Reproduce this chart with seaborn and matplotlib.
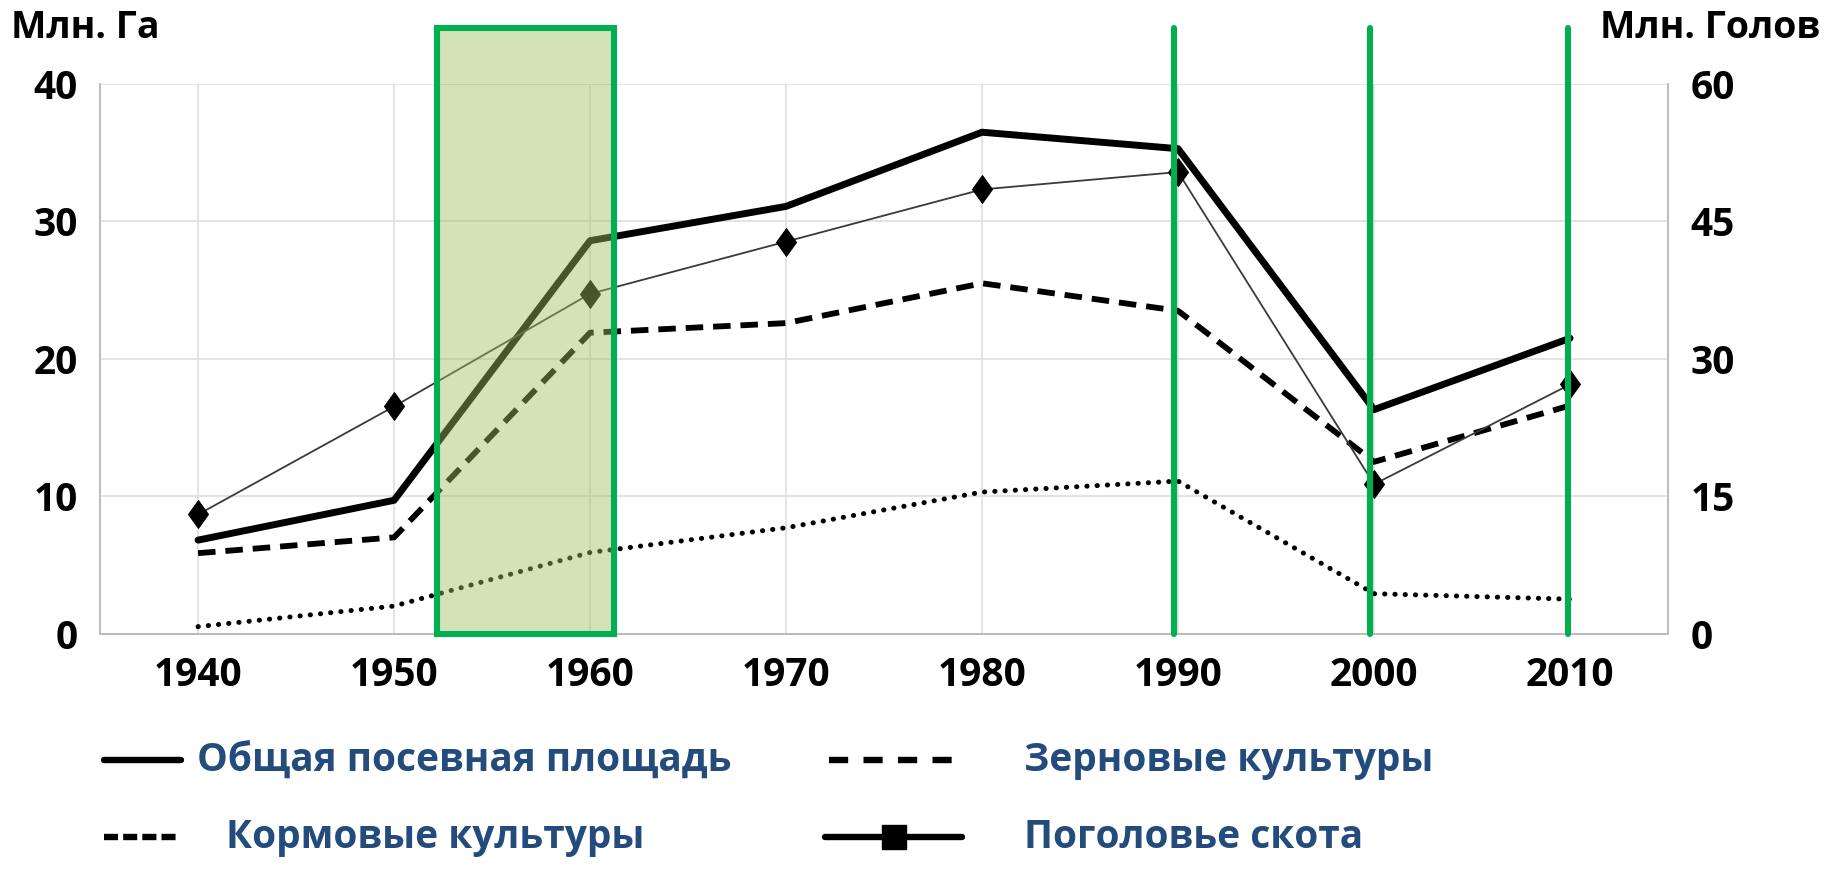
import matplotlib
matplotlib.use("Agg")
import matplotlib.pyplot as plt
from matplotlib.lines import Line2D
from matplotlib.patches import Rectangle
import seaborn as sns
import pandas as pd

years = [1940, 1950, 1960, 1970, 1980, 1990, 2000, 2010]
total_area = [6.8, 9.7, 28.6, 31.1, 36.5, 35.3, 16.3, 21.5]
grain = [5.85, 7.0, 21.9, 22.6, 25.5, 23.5, 12.5, 16.6]
forage = [0.5, 2.0, 5.9, 7.7, 10.3, 11.1, 2.9, 2.5]
livestock = [13.0, 24.8, 37.1, 42.8, 48.5, 50.4, 16.3, 27.2]

left_ticks = [0, 10, 20, 30, 40]
right_ticks = [0, 15, 30, 45, 60]
highlight_span = (1952.2, 1961.2)
highlight_lines = [1989.8, 1999.8, 2009.9]

legend_labels = ["Общая посевная площадь", "Зерновые культуры",
                 "Кормовые культуры", "Поголовье скота"]
left_label = "Млн. Га"
right_label = "Млн. Голов"

df = pd.DataFrame({"year": years, "total": total_area, "grain": grain,
                   "forage": forage, "livestock": livestock})

sns.set_theme(style="white")
FONT = ["Liberation Sans Narrow", "Open Sans", "DejaVu Sans"]
plt.rcParams["font.family"] = FONT
plt.rcParams["font.weight"] = "bold"

fig = plt.figure(figsize=(18.26, 8.72), dpi=100)
ax = fig.add_axes([0.0548, 0.2735, 0.8587, 0.630])
ax2 = ax.twinx()

diamond = [(0, 1), (0.72, 0), (0, -1), (-0.72, 0), (0, 1)]

sns.lineplot(data=df, x="year", y="total", ax=ax, color="black", linewidth=5.0,
             zorder=3)
sns.lineplot(data=df, x="year", y="grain", ax=ax, color="black", linewidth=4.2,
             linestyle=(0, (3.0, 1.7)), zorder=3)
sns.lineplot(data=df, x="year", y="forage", ax=ax, color="black", linewidth=3.6,
             linestyle=(0, (0.05, 2.0)), dash_capstyle="round", zorder=3)
sns.lineplot(data=df, x="year", y="livestock", ax=ax2, color="#3a3a3a",
             linewidth=1.3, marker=diamond, markersize=20,
             markerfacecolor="black", markeredgecolor="black", zorder=3)

for a, ticks in ((ax, left_ticks), (ax2, right_ticks)):
    a.set_ylim(ticks[0], ticks[-1])
    a.set_yticks(ticks)
    a.set_xlim(1935, 2015)
    a.set_xlabel("")
    a.set_ylabel("")

ax.set_xticks(years)
ax.set_xticklabels([str(y) for y in years])
ax.grid(True, color="#dedede", lw=1.2)
ax.set_axisbelow(True)
ax.tick_params(axis="both", labelsize=28, length=0, pad=16, labelcolor="black")
ax2.tick_params(axis="y", labelsize=28, length=0, pad=16, labelcolor="black")
for lbl in ax.get_xticklabels() + ax.get_yticklabels() + ax2.get_yticklabels():
    lbl.set_fontweight("bold")
for a in (ax, ax2):
    a.spines["top"].set_visible(False)
    for s in ("left", "bottom", "right"):
        a.spines[s].set_color("#bdbdbd")
        a.spines[s].set_linewidth(1.4)

# green highlight rectangle and vertical markers (drawn above the lines, on ax2 scale)
top_val = 66.15
rect = Rectangle((highlight_span[0], 0), highlight_span[1] - highlight_span[0],
                 top_val, facecolor=(0.62, 0.75, 0.38, 0.45), edgecolor="#00b050",
                 lw=4.4, clip_on=False, zorder=10)
ax2.add_patch(rect)
for xv in highlight_lines:
    ax2.plot([xv, xv], [0, top_val], color="#00b050", lw=4.4,
             clip_on=False, zorder=10)

fig.text(0.006, 0.968, left_label, fontsize=27, fontweight="bold", ha="left",
         va="center", color="black")
fig.text(0.997, 0.968, right_label, fontsize=27, fontweight="bold", ha="right",
         va="center", color="black")

# manual legend
blue = "#234b7c"
row1 = 0.128
row2 = 0.040
def leg_line(xs, y, **kw):
    fig.add_artist(Line2D(xs, [y] * len(xs), transform=fig.transFigure,
                          color="black", **kw))
leg_line([0.057, 0.099], row1, lw=4.6)
fig.text(0.108, row1, legend_labels[0], fontsize=28, fontweight="bold",
         color=blue, va="center", ha="left")
leg_line([0.454, 0.527], row1, lw=4.6, linestyle=(0, (3.0, 2.4)))
fig.text(0.561, row1, legend_labels[1], fontsize=28, fontweight="bold",
         color=blue, va="center", ha="left")
leg_line([0.057, 0.097], row2, lw=4.6, linestyle=(0, (2.2, 0.8)))
fig.text(0.124, row2, legend_labels[2], fontsize=28, fontweight="bold",
         color=blue, va="center", ha="left")
leg_line([0.452, 0.4895, 0.527], row2, lw=4.6, marker="s", markersize=17,
         markevery=[1])
fig.text(0.561, row2, legend_labels[3], fontsize=28, fontweight="bold",
         color=blue, va="center", ha="left")

fig.savefig("out.png", dpi=100)
